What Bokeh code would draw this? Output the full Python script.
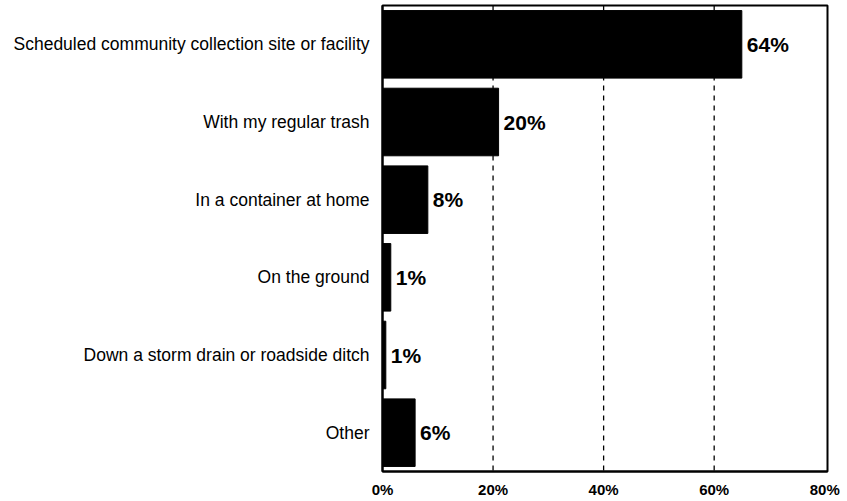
from bokeh.plotting import figure
from bokeh.models import FactorRange, Range1d, ColumnDataSource, FixedTicker, CustomJSTickFormatter, Span, LabelSet
from bokeh.core.properties import value
from bokeh.embed import file_html
from bokeh.resources import INLINE

categories = ["Scheduled community collection site or facility", "With my regular trash",
              "In a container at home", "On the ground",
              "Down a storm drain or roadside ditch", "Other"]
values = [65, 21, 8.2, 1.5, 0.6, 5.9]
value_labels = ["64%", "20%", "8%", "1%", "1%", "6%"]
x_ticks = [0, 20, 40, 60, 80]

src = ColumnDataSource(dict(cat=categories, val=values, lab=value_labels))

p = figure(width=840, height=500, output_backend="svg", toolbar_location=None,
           y_range=FactorRange(*categories[::-1], range_padding=0),
           x_range=Range1d(0, 80.5),
           min_border_left=382, min_border_right=13, min_border_top=5, min_border_bottom=10)

p.hbar(y="cat", right="val", height=0.87, source=src, color="black")

labels = LabelSet(x="val", y="cat", text="lab", source=src, x_offset=5, y_offset=0,
                  text_baseline="middle", text_font=value("Liberation Sans"), text_font_style="bold",
                  text_font_size="21px", text_color="black")
p.add_layout(labels)

for t in x_ticks[1:-1]:
    p.add_layout(Span(location=t, dimension="height", line_color="black", line_width=1.3,
                      line_dash="5 5"))

p.xgrid.visible = False
p.ygrid.visible = False
p.outline_line_color = "black"
p.outline_line_width = 2
p.outline_line_alpha = 1

p.xaxis.ticker = FixedTicker(ticks=x_ticks)
p.xaxis.formatter = CustomJSTickFormatter(code="return tick + '%';")
p.xaxis.major_label_text_font = "Liberation Sans"
p.xaxis.major_label_text_font_style = "bold"
p.xaxis.major_label_text_font_size = "15px"
p.xaxis.major_label_text_color = "black"
p.xaxis.major_tick_line_color = None
p.xaxis.major_tick_out = 0
p.xaxis.major_tick_in = 0
p.xaxis.minor_tick_line_color = None
p.xaxis.minor_tick_out = 0
p.xaxis.axis_line_color = "black"
p.xaxis.axis_line_width = 2
p.xaxis.major_label_standoff = 9

p.yaxis.major_label_text_font = "Liberation Sans"
p.yaxis.major_label_text_font_size = "17.5px"
p.yaxis.major_label_text_color = "black"
p.yaxis.major_tick_line_color = None
p.yaxis.minor_tick_line_color = None
p.yaxis.axis_line_color = "black"
p.yaxis.axis_line_width = 2
p.yaxis.major_label_standoff = 7

p.background_fill_color = "white"
p.border_fill_color = "white"

open("out.html", "w").write(file_html(p, INLINE))
